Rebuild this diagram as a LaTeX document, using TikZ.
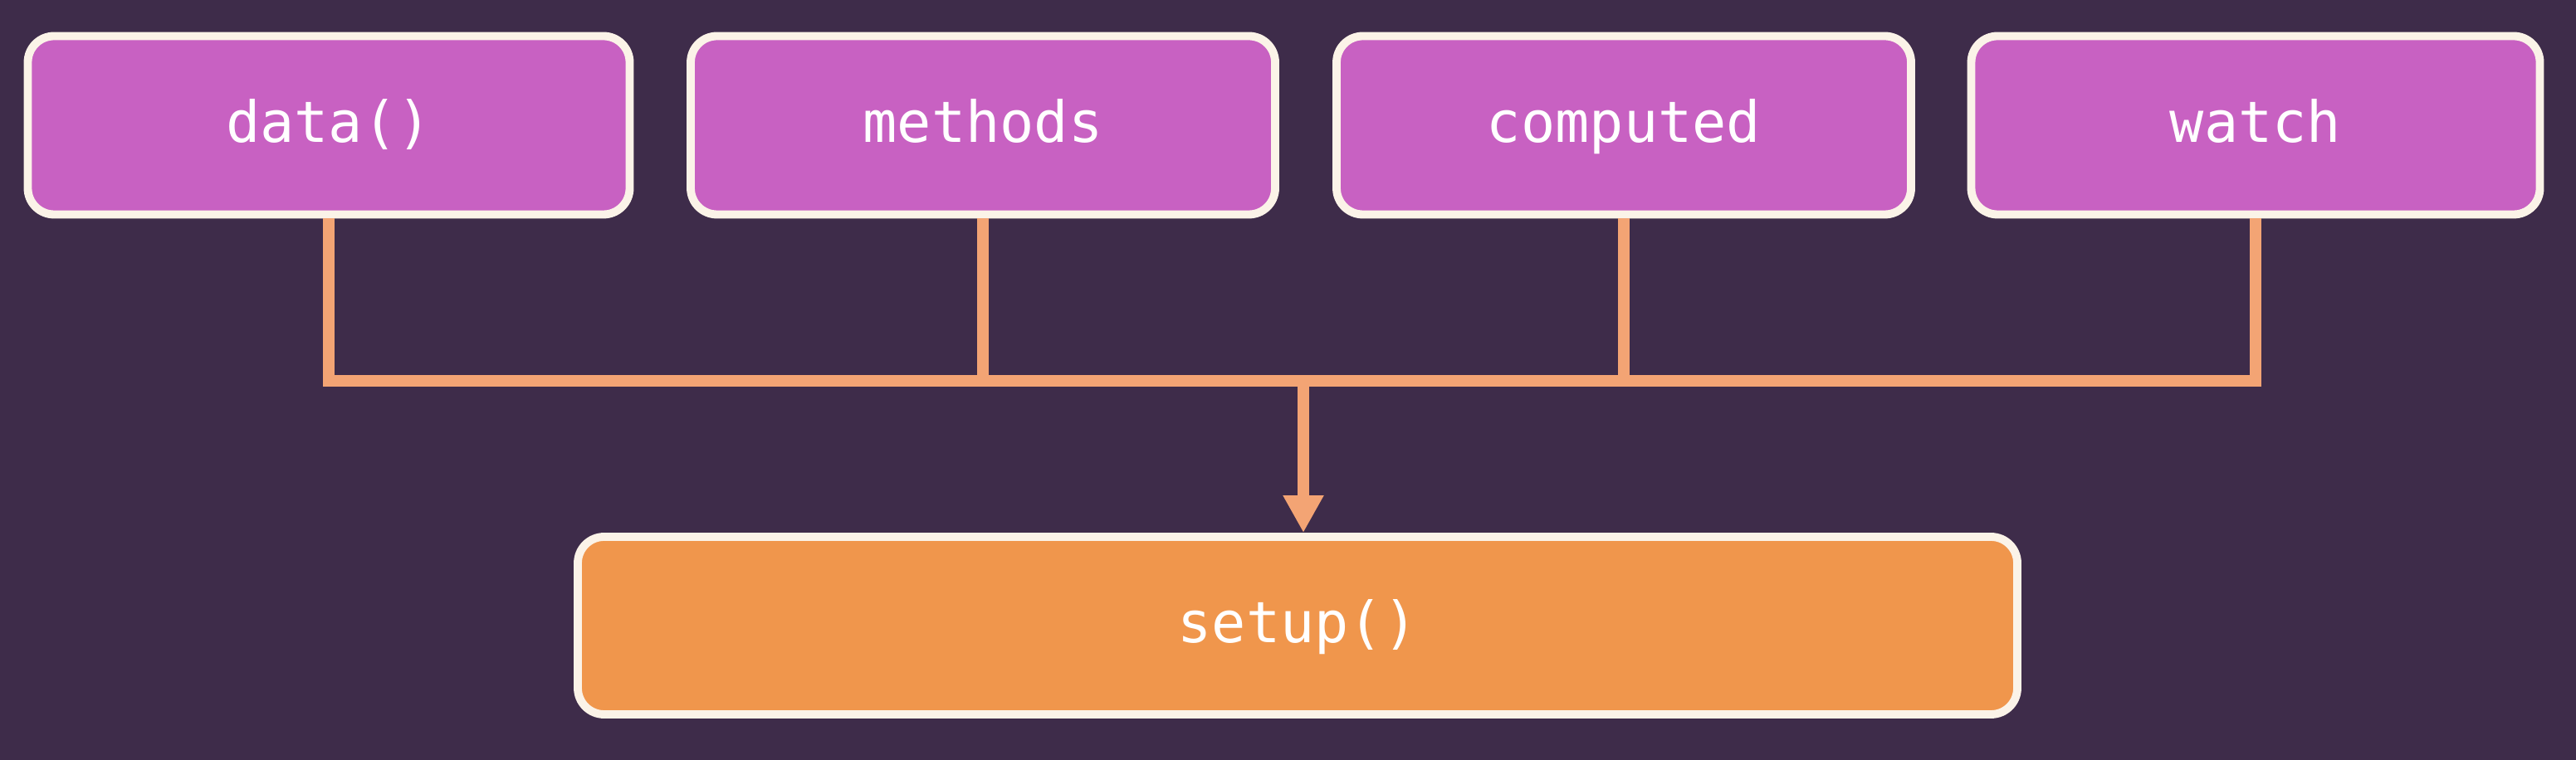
\documentclass[tikz,border=0pt]{standalone}
\usepackage{fontspec}
\setmonofont{DejaVu Sans Mono}
\usetikzlibrary{arrows.meta}
\definecolor{bgpurple}{HTML}{3E2C4A}
\definecolor{optmag}{HTML}{C861C2}
\definecolor{setuporange}{HTML}{F0964C}
\definecolor{wireorange}{HTML}{F3A474}
\definecolor{rimcream}{HTML}{FBF3E8}
\begin{document}
\begin{tikzpicture}[
    optbox/.style={draw=rimcream, line width=2.8pt, rounded corners=9pt, fill=optmag,
      minimum height=2.15cm, text=white, text height=3.1ex, text depth=0.45ex,
      font=\ttfamily\fontsize{19.5}{23}\selectfont},
    setupbox/.style={optbox, fill=setuporange, minimum height=2.14cm},
    wire/.style={draw=wireorange, line width=4.2pt, line join=miter}
    ]
	\fill[bgpurple] (0,0) rectangle (31.03,-9.16);
	\useasboundingbox (0,0) rectangle (31.03,-9.16);
	\node [optbox, minimum width=7.25cm] (data) at (3.96,-1.51) {data()};
	\node [optbox, minimum width=7.04cm] (methods) at (11.84,-1.51) {methods};
	\node [optbox, minimum width=6.92cm] (computed) at (19.56,-1.51) {computed};
	\node [optbox, minimum width=6.85cm] (watch) at (27.17,-1.51) {watch};
	\node [setupbox, minimum width=17.34cm] (setup) at (15.63,-7.54) {setup()};
	\coordinate (bus) at (15.70,-4.59);
	\draw [wire] (data.south) |- (bus) -| (watch.south);
	\draw [wire] (methods.south) -- (methods.south |- bus);
	\draw [wire] (computed.south) -- (computed.south |- bus);
	\draw [wire, -{Triangle[width=0.46cm,length=0.45cm]}] (bus) -- (bus |- setup.north);
\end{tikzpicture}
\end{document}
